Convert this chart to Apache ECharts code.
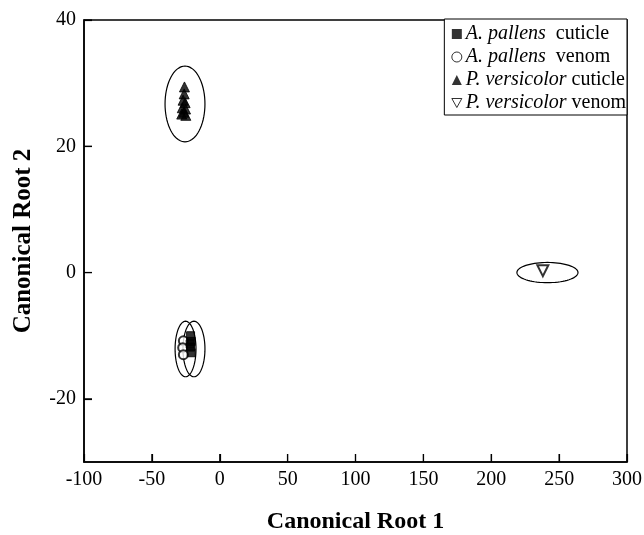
<!DOCTYPE html>
<html><head><meta charset="utf-8">
<script src="https://cdn.jsdelivr.net/npm/echarts@6/dist/echarts.min.js"></script>
<style>html,body{margin:0;padding:0;background:#fff}#c{width:644px;height:535px}</style>
</head><body><div id="c"></div>
<script>
// Data (Canonical Root 1, Canonical Root 2)
const apCuticle = [[-21.5,-10.0],[-21.0,-10.9],[-21.5,-11.8],[-21.0,-12.7],[-21.8,-11.3]];
const apVenom = [[-26.8,-10.8],[-27.3,-11.9],[-26.8,-13.0]];
const pvCuticle = [[-26.0,29.4],[-26.2,28.3],[-27.0,27.3],[-25.5,26.9],[-27.6,26.1],[-25.2,25.9],[-28.0,25.1],[-25.0,24.9],[-26.5,25.4]];
const pvVenom = [[238.0,0.3]];
// Ellipses: [centerX, centerY, radiusX, radiusY]
const ellipses = [[-25.6,26.7,14.7,6.0],[-25.2,-12.1,7.7,4.4],[-19.0,-12.1,8.1,4.4],[241.4,0.0,22.5,1.6]];
const xTicks = [-100,-50,0,50,100,150,200,250,300];
const yTicks = [-20,0,20,40];
const X_MIN = -100, Y_MIN = -30;
const names = ['A. pallens|  cuticle','A. pallens|  venom','P. versicolor| cuticle','P. versicolor| venom'];

const FONT = 'Liberation Serif';
const chart = echarts.init(document.getElementById('c'));
function sc(name, data, symbol, size, rot, z) {
  return {type:'scatter', name:name, data:data, symbol:symbol, symbolSize:size, symbolRotate:rot||0,
    itemStyle:{color:'#000', borderColor:'#000', borderWidth:1}, z:z};
}
const solid = {color:'#000', borderColor:'#000', borderWidth:0};
const hollow = {color:'#fff', borderColor:'#000', borderWidth:1};
// tick marks drawn through the axis scales (inside, pointing into the plot)
const tickData = xTicks.map(v => [v, Y_MIN, 0]).concat(yTicks.map(v => [X_MIN, v, 1]));
chart.setOption({
  animation:false,
  grid:{left:84, top:20, right:17, bottom:73, show:true, borderColor:'#000', borderWidth:1.5,
    outerBounds:{left:-100, right:-100, top:-100, bottom:-100}},
  xAxis:{type:'value', min:X_MIN, max:300, interval:50,
    name:'Canonical Root 1', nameLocation:'middle', nameGap:48, nameMoveOverlap:false,
    nameTextStyle:{fontFamily:FONT, fontWeight:'bold', fontSize:24, color:'#000'},
    axisLine:{onZero:false, lineStyle:{color:'#000', width:1.5}},
    axisTick:{show:true, inside:true, length:8, lineStyle:{color:'#000', width:1.2}},
    axisLabel:{fontFamily:FONT, fontSize:20, color:'#000', margin:8},
    splitLine:{show:false}},
  yAxis:{type:'value', min:Y_MIN, max:40,
    name:'Canonical Root 2', nameLocation:'middle', nameGap:48, nameMoveOverlap:false,
    nameTextStyle:{fontFamily:FONT, fontWeight:'bold', fontSize:25, color:'#000'},
    axisLine:{onZero:false, lineStyle:{color:'#000', width:1.5}},
    axisTick:{show:true, inside:true, length:8, lineStyle:{color:'#000', width:1.2}, customValues:yTicks},
    axisLabel:{fontFamily:FONT, fontSize:20, color:'#000', margin:8, customValues:yTicks},
    splitLine:{show:false}},
  legend:{orient:'vertical', right:17, top:19, itemGap:3, itemWidth:10, itemHeight:10,
    backgroundColor:'#fff', borderColor:'#000', borderWidth:1, padding:[5,1,2,7],
    data:[
      {name:names[0], icon:'rect', itemStyle:solid},
      {name:names[1], icon:'circle', itemStyle:hollow},
      {name:names[2], icon:'triangle', itemStyle:solid},
      {name:names[3], icon:'path://M0,0 L10,0 L5,9 Z', itemStyle:hollow}
    ],
    formatter:function(n){const p=n.split('|');return '{i|'+p[0]+'}'+p[1];},
    textStyle:{fontFamily:FONT, fontSize:20, color:'#000', padding:[0,0,0,-1], rich:{i:{fontFamily:FONT, fontStyle:'italic', fontSize:20, color:'#000'}}}},
  series:[
    {type:'custom', name:'ticks', data:tickData, z:6, silent:true, clip:false,
      renderItem:function(params, api){
        const p = api.coord([api.value(0), api.value(1)]);
        const horiz = api.value(2) === 1;
        return {type:'line', shape: horiz ? {x1:p[0], y1:p[1], x2:p[0]+8, y2:p[1]} : {x1:p[0], y1:p[1], x2:p[0], y2:p[1]-8},
          style:{stroke:'#000', lineWidth:1.2}};
      }},
    {type:'custom', name:'ellipse', data:ellipses, z:1, silent:true,
      renderItem:function(params, api){
        const c = api.coord([api.value(0), api.value(1)]);
        const s = api.size([api.value(2), api.value(3)]);
        const pts = [];
        for (let k=0;k<72;k++){const t=k/72*2*Math.PI;pts.push([c[0]+s[0]*Math.cos(t), c[1]+s[1]*Math.sin(t)]);}
        return {type:'polygon', shape:{points:pts}, style:{fill:'none', stroke:'#000', lineWidth:1.2}};
      }},
    sc(names[1], apVenom, 'emptyCircle', 9, 0, 3),
    sc(names[0], apCuticle, 'rect', 8, 0, 4),
    sc(names[2], pvCuticle, 'triangle', 10, 0, 4),
    sc(names[3], pvVenom, 'emptyTriangle', 11, 180, 4)
  ]
});
</script></body></html>
